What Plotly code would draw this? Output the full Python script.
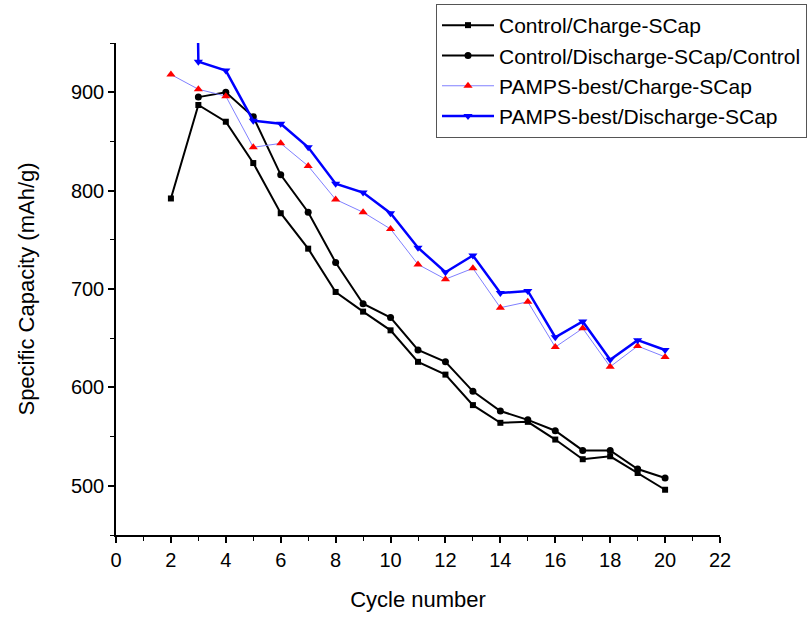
import plotly.graph_objects as go

cycles = list(range(2, 21))
control_charge = [792, 887, 870, 828, 777, 741, 697, 677, 658, 626, 613, 582, 564, 565, 547, 527, 530, 513, 496]
cycles_c_dis = list(range(3, 21))
control_discharge = [895, 900, 875, 816, 778, 727, 685, 671, 638, 626, 596, 576, 567, 556, 536, 536, 517, 508]
pamps_charge = [918, 903, 896, 844, 848, 825, 791, 778, 761, 725, 710, 721, 681, 687, 641, 660, 621, 642, 631]
pamps_discharge = [3000, 931, 922, 871, 868, 844, 807, 798, 777, 742, 717, 734, 696, 698, 651, 667, 628, 648, 638]

names = ["Control/Charge-SCap", "Control/Discharge-SCap/Control",
         "PAMPS-best/Charge-SCap", "PAMPS-best/Discharge-SCap"]
x_ticks = list(range(0, 23, 2))
y_ticks = [500, 600, 700, 800, 900]

FONT = "Liberation Sans, Arial, sans-serif"

fig = go.Figure()
fig.add_trace(go.Scatter(x=cycles, y=control_charge, name=names[0], mode="lines+markers",
                         line=dict(color="black", width=2),
                         marker=dict(symbol="square", size=6, color="black")))
fig.add_trace(go.Scatter(x=cycles_c_dis, y=control_discharge, name=names[1], mode="lines+markers",
                         line=dict(color="black", width=2),
                         marker=dict(symbol="circle", size=7, color="black")))
fig.add_trace(go.Scatter(x=cycles, y=pamps_charge, name=names[2], mode="lines+markers",
                         line=dict(color="#8080ff", width=1),
                         marker=dict(symbol="triangle-up", size=8, color="red")))
fig.add_trace(go.Scatter(x=cycles, y=pamps_discharge, name=names[3], mode="lines+markers",
                         line=dict(color="#0000ff", width=2.5),
                         marker=dict(symbol="triangle-down", size=8, color="#0000ff")))

axis_common = dict(showline=True, linecolor="black", linewidth=1.5, showgrid=False, zeroline=False,
                   ticks="outside", ticklen=6, tickwidth=1.5, tickcolor="black",
                   tickfont=dict(family=FONT, size=20, color="black"))

fig.update_xaxes(range=[0, 22], tickvals=x_ticks, ticktext=[str(v) for v in x_ticks],
                 minor=dict(dtick=1, tick0=0, ticks="outside", ticklen=4, tickwidth=1.2, tickcolor="black"),
                 title=dict(text="Cycle number", font=dict(family=FONT, size=22, color="black"), standoff=22),
                 automargin=False, **axis_common)
fig.update_yaxes(range=[450, 950], tickvals=y_ticks, ticktext=[str(v) for v in y_ticks],
                 minor=dict(dtick=50, tick0=450, ticks="outside", ticklen=4, tickwidth=1.2, tickcolor="black"),
                 title=dict(text="Specific Capacity (mAh/g)", font=dict(family=FONT, size=22, color="black"), standoff=30),
                 automargin=False, **axis_common)

fig.update_layout(
    width=809, height=623,
    margin=dict(l=116, r=89, t=43, b=88, autoexpand=False),
    paper_bgcolor="white", plot_bgcolor="white",
    font=dict(family=FONT, color="black"),
    legend=dict(x=807 / 809, y=1 - 4 / 623, xanchor="right", yanchor="top",
                xref="container", yref="container",
                bordercolor="#555555", borderwidth=1, bgcolor="white",
                font=dict(family=FONT, size=21, color="black"),
                tracegroupgap=0, itemwidth=52),
)

fig.write_html("out.html")
